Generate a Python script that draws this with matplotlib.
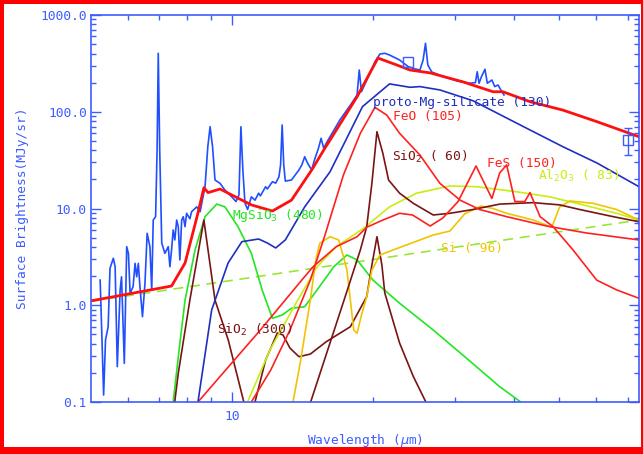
import matplotlib
matplotlib.use("Agg")
import matplotlib.pyplot as plt
from matplotlib.patches import Rectangle
from matplotlib.ticker import FixedLocator, NullFormatter, FormatStrFormatter

# observed spectrum (MJy/sr)
obs_wave = [5.23, 5.27, 5.32, 5.37, 5.44, 5.49, 5.58, 5.63, 5.69, 5.77, 5.81, 5.89, 5.96, 6.01,
            6.06, 6.15, 6.21, 6.26, 6.31, 6.36, 6.44, 6.52, 6.59, 6.68, 6.74, 6.79, 6.87, 6.92,
            6.96, 7.01, 7.08, 7.19, 7.31, 7.37, 7.43, 7.49, 7.55, 7.62, 7.68, 7.74, 7.81, 7.87,
            7.94, 8.00, 8.13, 8.20, 8.41, 8.55, 8.76, 8.88, 8.98, 9.09, 9.20, 9.43, 9.66, 9.99,
            10.2, 10.35, 10.45, 10.55, 10.66, 10.8, 11.0, 11.2, 11.4, 11.5, 11.8, 11.9, 12.2,
            12.4, 12.6, 12.7, 12.8, 12.9, 13.0, 13.4, 13.6, 13.9, 14.1, 14.3, 14.5, 14.8, 15.0,
            15.3, 15.5, 15.7, 15.95, 16.2, 17.0, 17.9, 18.5, 18.7, 18.9, 19.7, 20.2, 20.7, 21.2,
            21.7, 22.8, 23.8, 24.6, 25.2, 25.6, 25.9, 26.2, 26.7, 28.3, 30.2, 32.2, 33.1, 33.4,
            33.7, 34.1, 34.7, 35.1, 35.9, 36.4, 37.0, 37.7, 38.1]
obs_flux = [1.82, 0.555, 0.118, 0.438, 0.60, 2.41, 3.06, 2.50, 0.232, 1.44, 1.97, 0.251, 4.03, 3.44,
            1.33, 1.56, 2.71, 1.97, 2.71, 1.56, 0.762, 1.69, 5.54, 4.03, 1.44, 7.60, 8.23, 40.2,
            402, 40, 4.40, 3.44, 4.03, 2.50, 3.73, 6.0, 4.73, 7.6, 6.49, 2.94, 7.6, 8.23,
            6.49, 8.92, 7.83, 9.27, 10.4, 9.27, 16.8, 43.5, 70.0, 43.5, 19.7, 18.2, 15.5, 13.2,
            11.8, 13.8, 70, 25, 11.4, 9.76, 13.2, 12.2, 14.4, 13.5, 16.8, 15.9, 18.9,
            18.3, 21.3, 28.2, 73, 28.2, 19.2, 19.7, 21.7, 25, 28.2, 34.3, 29.5, 25, 31.7,
            41.9, 53.2, 42, 48.6, 55.2, 82.2, 117, 149, 270, 161, 250, 327, 395, 402,
            386, 343, 292, 277, 270, 343, 510, 304, 258, 230, 209, 197, 200, 259,
            197, 230, 275, 197, 213, 182, 189, 161, 149]

# total model
total_wave = [5.0, 7.43, 7.94, 8.46, 8.71, 8.89, 9.43, 11.0, 12.2, 13.4, 14.8, 15.8, 16.2, 18.5,
              20.5, 22.5, 24.0, 26.5, 31.1, 36.1, 37.9, 43.3, 50.9, 60.2, 74.0]
total_flux = [1.11, 1.58, 2.73, 8.98, 16.4, 14.6, 15.9, 10.9, 9.42, 12.2, 25.0, 42.2, 51, 143,
              359, 304, 270, 252, 204, 161, 161, 127, 104, 78.9, 55.2]

# dust components
proto_wave = [8.3, 8.46, 9.05, 9.81, 10.5, 11.4, 11.9, 12.4, 13.0, 14.3, 16.2, 19.0, 21.7, 24.0,
              25.2, 27.8, 32.7, 36.8, 43.3, 50.9, 60.2, 74.0]
proto_flux = [0.07, 0.1, 0.893, 2.73, 4.54, 4.84, 4.40, 3.91, 4.73, 10.4, 24.0, 113, 194, 179,
              182, 168, 130, 97, 64.8, 43.5, 29.5, 16.8]

feo_wave = [10.8, 11.0, 12.1, 13.3, 14.7, 15.8, 17.3, 18.8, 20.2, 21.4, 22.8, 25.2, 27.8, 30.7,
            33.8, 38.6, 47.0, 57.2, 74.0]
feo_flux = [0.065, 0.1, 0.214, 0.555, 1.82, 5.32, 22.2, 59.9, 111, 92.5, 59.9, 35.7, 18.2, 12.2,
            9.76, 8.23, 6.59, 5.58, 4.73]

fes_wave = [8.34, 8.46, 11.5, 14.0, 14.9, 16.7, 18.5, 19.4, 21.0, 22.8, 24.3, 26.5, 28.2, 30.4,
            33.2, 35.9, 37.3, 38.6, 40.2, 42.2, 43.3, 45.5, 48.5, 53.5, 60.1, 66.3, 74.0]
fes_flux = [0.065, 0.1, 0.555, 1.75, 2.50, 4.03, 5.11, 6.4, 7.6, 8.92, 8.57, 6.59, 7.97, 11.8,
            27.5, 12.7, 23.3, 28.2, 11.8, 11.8, 14.6, 8.23, 6.49, 3.73, 1.82, 1.44, 1.18]

sio2_60_wave = [14.4, 14.7, 17.3, 18.8, 19.4, 19.9, 20.4, 21.0, 21.6, 22.8, 24.4, 26.9, 29.2,
                32.7, 37.3, 43.9, 50.1, 55.3, 65.2, 74.0]
sio2_60_flux = [0.065, 0.0976, 1.08, 3.73, 6.49, 18.3, 62.2, 37.2, 19.7, 14.4, 11.3, 8.57, 8.92,
                9.76, 11.1, 11.5, 10.9, 9.76, 8.23, 7.30]

sio2_300_wave = [7.44, 7.55, 7.68, 8.13, 8.71, 9.20, 9.82, 10.6, 10.8, 11.2, 11.8, 12.5, 12.85,
                 13.3, 13.9, 14.7, 15.9, 17.9, 19.4, 19.9, 20.4, 20.9, 21.2, 22.8, 24.4, 26.0, 26.7]
sio2_300_flux = [0.058, 0.102, 0.198, 1.13, 7.6, 1.13, 0.437, 0.1, 0.065, 0.1, 0.272, 0.517, 0.493,
                 0.361, 0.294, 0.313, 0.42, 0.60, 1.23, 2.61, 5.11, 2.61, 1.34, 0.407, 0.183, 0.098,
                 0.065]

mgsio3_wave = [7.41, 7.49, 7.74, 7.94, 8.34, 8.76, 9.28, 9.66, 10.3, 11.0, 11.6, 12.2, 12.8, 13.4,
               14.3, 15.2, 16.5, 17.6, 18.5, 20.0, 22.8, 26.9, 31.7, 37.3, 41.6, 43.3]
mgsio3_flux = [0.058, 0.1, 0.404, 1.13, 3.73, 8.23, 11.1, 10.4, 6.49, 3.44, 1.44, 0.733, 0.793,
               0.93, 0.966, 1.44, 2.50, 3.31, 2.94, 1.82, 1.05, 0.555, 0.283, 0.144, 0.098, 0.085]

al2o3_wave = [10.7, 10.8, 12.05, 13.7, 15.2, 16.7, 19.1, 21.7, 24.8, 29.2, 33.3, 40.5, 47.7, 56.2,
              66.3, 74.0]
al2o3_flux = [0.065, 0.1, 0.345, 1.05, 2.50, 4.03, 6.24, 10.4, 14.4, 17.1, 16.8, 14.9, 13.2, 10.9,
              8.92, 7.6]

si_wave = [13.3, 13.5, 14.0, 14.7, 15.1, 15.4, 16.2, 16.9, 17.3, 17.6, 17.9, 18.2, 18.5, 18.9,
           19.4, 19.9, 20.7, 22.8, 26.9, 29.2, 31.4, 34.0, 36.1, 38.6, 44.0, 48.2, 50.1, 52.7,
           59.1, 66.3, 74.0]
si_flux = [0.065, 0.1, 0.259, 1.13, 2.94, 4.37, 5.11, 4.73, 3.18, 2.31, 1.13, 0.555, 0.513, 0.79,
           1.23, 2.31, 3.31, 3.95, 5.32, 5.85, 8.78, 10.6, 10.0, 8.92, 7.6, 6.39, 10.4, 11.95,
           11.3, 9.76, 7.6]

# continuum (dashed)
cont_wave = [5.0, 74.0]
cont_flux = [1.10, 7.6]

# photometry points
phot_wave = [23.8, 70.0]
phot_flux = [324, 51.0]
phot_err_lo = [0.0, 15.3]
phot_err_hi = [0.0, 16.5]

# labels
label_text = ["proto-Mg-silicate (130)", "FeO (105)", "SiO$_2$ ( 60)", "FeS (150)",
              "Al$_2$O$_3$ ( 83)", "MgSiO$_3$ (480)", "Si ( 96)", "SiO$_2$ (300)"]
label_x = [20.0, 22.1, 22.0, 35.0, 45.1, 10.0, 28.0, 9.28]
label_y = [115, 82, 31, 27, 19.7, 7.73, 3.55, 0.50]

AXC = "#3d5cff"
BROWN = "#7a1414"
RED = "#ff2020"
GREEN = "#22e622"
YGREEN = "#c8ee10"
GOLD = "#f0c400"
DBLUE = "#1f2fc0"
label_color = [DBLUE, RED, BROWN, RED, YGREEN, GREEN, GOLD, BROWN]

plt.rcParams['font.family'] = ['DejaVu Sans Mono', 'DejaVu Sans']

fig = plt.figure(figsize=(6.43, 4.54), dpi=100)
fig.patch.set_facecolor("white")
ax = fig.add_axes([91 / 643, 1 - 402 / 454, 548 / 643, 387 / 454])

lw = 1.2
ax.plot(cont_wave, cont_flux, color="#9ae636", lw=lw, ls=(0, (6, 4)))
ax.plot(mgsio3_wave, mgsio3_flux, color=GREEN, lw=lw)
ax.plot(sio2_300_wave, sio2_300_flux, color=BROWN, lw=lw)
ax.plot(al2o3_wave, al2o3_flux, color=YGREEN, lw=lw)
ax.plot(si_wave, si_flux, color=GOLD, lw=lw)
ax.plot(sio2_60_wave, sio2_60_flux, color=BROWN, lw=lw)
ax.plot(fes_wave, fes_flux, color=RED, lw=lw)
ax.plot(feo_wave, feo_flux, color=RED, lw=lw)
ax.plot(proto_wave, proto_flux, color=DBLUE, lw=lw)
ax.plot(obs_wave, obs_flux, color="#1f4fff", lw=lw)
ax.plot(total_wave, total_flux, color="#ff1010", lw=2.0)

# photometry
ax.plot(phot_wave[0], phot_flux[0], marker="s", ms=7, mfc="none", mec=AXC, mew=1.0, ls="none")
ax.errorbar(phot_wave[1], phot_flux[1], yerr=[[phot_err_lo[1]], [phot_err_hi[1]]],
            marker="s", ms=7, mfc="none", mec=AXC, mew=1.0, ecolor=AXC, elinewidth=1.0,
            capsize=3, ls="none")

for t, x, y, c in zip(label_text, label_x, label_y, label_color):
    ax.text(x, y, t, color=c, fontsize=9.3, ha="left", va="baseline")

ax.set_xscale("log")
ax.set_yscale("log")
ax.set_xlim(5.0, 74.0)
ax.set_ylim(0.1, 1000.0)

ax.xaxis.set_major_locator(FixedLocator([10]))
ax.xaxis.set_major_formatter(FormatStrFormatter("%d"))
ax.xaxis.set_minor_locator(FixedLocator([6, 7, 8, 9, 20, 30, 40, 50, 60, 70]))
ax.xaxis.set_minor_formatter(NullFormatter())
ax.yaxis.set_major_locator(FixedLocator([0.1, 1, 10, 100, 1000]))
ax.yaxis.set_major_formatter(FormatStrFormatter("%.1f"))
ax.yaxis.set_minor_locator(FixedLocator([m * 10.0 ** e for e in range(-1, 3) for m in range(2, 10)]))
ax.yaxis.set_minor_formatter(NullFormatter())

ax.tick_params(which="both", direction="in", top=True, right=True, colors=AXC,
               labelcolor=AXC, labelsize=9.3, width=1.0)
ax.tick_params(which="major", length=7)
ax.tick_params(which="minor", length=3.6)
ax.tick_params(axis="x", which="major", pad=6)
ax.tick_params(axis="y", which="major", pad=3)
for s in ax.spines.values():
    s.set_color(AXC)
    s.set_linewidth(1.2)

ax.set_xlabel("Wavelength ($\\mu$m)", color=AXC, fontsize=9.3, labelpad=6)
ax.set_ylabel("Surface Brightness(MJy/sr)", color=AXC, fontsize=9.3, labelpad=8)

# red frame around the picture
for r in [(0, 0, 4 / 643, 1), (0, 1 - 4 / 454, 1, 4 / 454), (640.5 / 643, 0, 2.5 / 643, 1),
          (0, 0, 1, 7 / 454)]:
    fig.add_artist(Rectangle((r[0], r[1]), r[2], r[3], transform=fig.transFigure,
                             facecolor="red", edgecolor="none"))

fig.savefig("out.png", dpi=100)
